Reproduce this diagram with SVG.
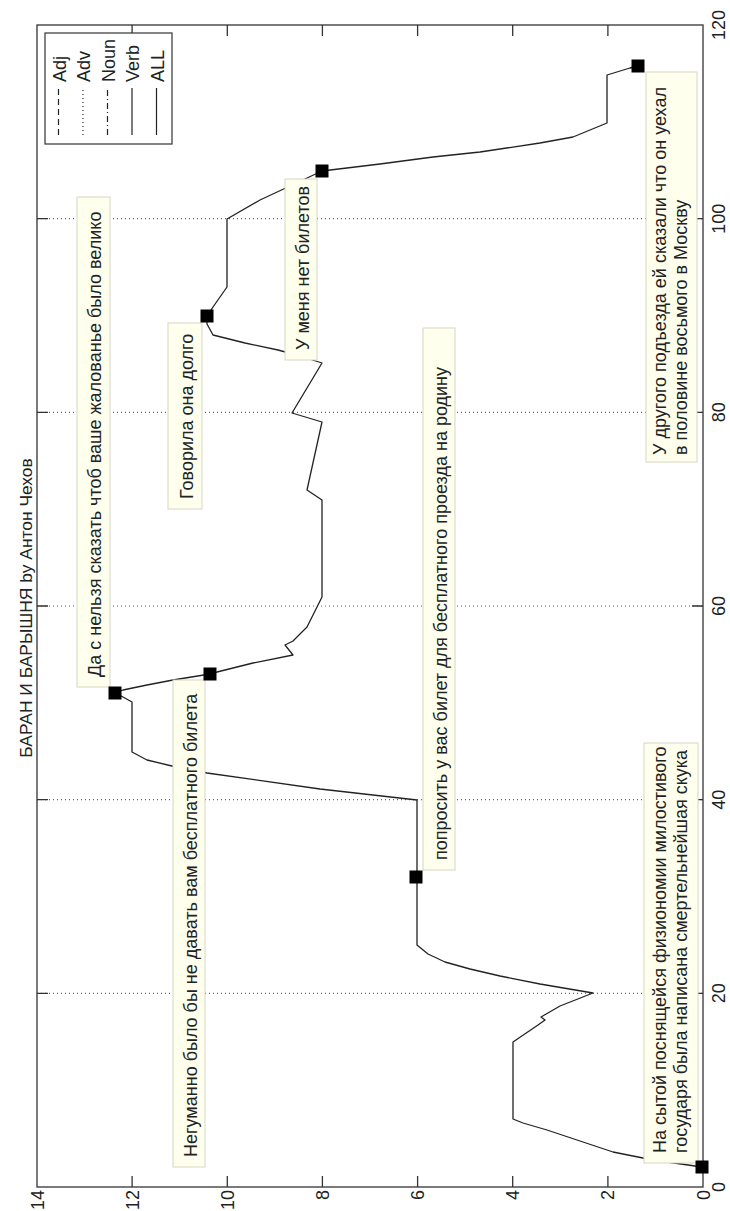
<svg xmlns="http://www.w3.org/2000/svg" width="730" height="1211" viewBox="0 0 730 1211">
<style>
text{font-family:"Liberation Sans",Arial,sans-serif;font-size:18px;fill:#222}
.grid{stroke:#666;stroke-width:1.2;stroke-dasharray:1 3;fill:none}
.tick{stroke:#333;stroke-width:1.3}
.tip{fill:#ffffee;stroke:#d6d6c4;stroke-width:1}
.mk{fill:#000}
.curve{fill:none;stroke:#222;stroke-width:1.3;stroke-linejoin:round}
.leg{stroke:#222;stroke-width:1.2;fill:none}
</style>
<rect width="730" height="1211" fill="#fff"/>
<g id="grid">
<line class="grid" x1="37" y1="993.3" x2="703" y2="993.3"/>
<line class="grid" x1="37" y1="799.7" x2="703" y2="799.7"/>
<line class="grid" x1="37" y1="606" x2="703" y2="606"/>
<line class="grid" x1="37" y1="412.3" x2="703" y2="412.3"/>
<line class="grid" x1="37" y1="218.7" x2="703" y2="218.7"/>
</g>
<g id="axes">
<rect x="37" y="25" width="666" height="1162" fill="none" stroke="#333" stroke-width="1.3"/>
<path class="tick" d="M37 993.3h11M37 799.7h11M37 606h11M37 412.3h11M37 218.7h11M703 993.3h-11M703 799.7h-11M703 606h-11M703 412.3h-11M703 218.7h-11M132.1 1187v-11M227.3 1187v-11M322.4 1187v-11M417.6 1187v-11M512.7 1187v-11M607.9 1187v-11M132.1 25v11M227.3 25v11M322.4 25v11M417.6 25v11M512.7 25v11M607.9 25v11"/>
<g text-anchor="middle">
<text transform="translate(725,1187) rotate(-90)">0</text>
<text transform="translate(725,993.3) rotate(-90)">20</text>
<text transform="translate(725,799.7) rotate(-90)">40</text>
<text transform="translate(725,606) rotate(-90)">60</text>
<text transform="translate(725,412.3) rotate(-90)">80</text>
<text transform="translate(725,218.7) rotate(-90)">100</text>
<text transform="translate(725,25) rotate(-90)">120</text>
</g>
<g text-anchor="end">
<text transform="translate(43.5,1190) rotate(-90)">14</text>
<text transform="translate(138.6,1190) rotate(-90)">12</text>
<text transform="translate(233.8,1190) rotate(-90)">10</text>
<text transform="translate(328.9,1190) rotate(-90)">8</text>
<text transform="translate(424.1,1190) rotate(-90)">6</text>
<text transform="translate(519.2,1190) rotate(-90)">4</text>
<text transform="translate(614.4,1190) rotate(-90)">2</text>
<text transform="translate(709.5,1190) rotate(-90)">0</text>
</g>
<text id="title" text-anchor="middle" style="font-size:17.4px" transform="translate(32,608) rotate(-90)">БАРАН И БАРЫШНЯ by Антон Чехов</text>
</g>
<g id="connectors">
<path class="curve" d="M702 1167 L667 1162 L643 1158 L613 1152 L580 1141 L547 1130 L523 1123 L513 1119 L513 1042 L538 1025 L545 1020 L541 1017 L560 1006 L593 993 L540 984 L500 976 L470 969 L445 962 L428 954 L417 945 L417 800 L320 789 L207 773 L172 766 L147 760 L132 752 L132 702 L123 697 L115 693 L123 690 L147 685 L173 680 L210 674 L217 672 L253 663 L293 655 L285 645 L293 641 L307 627 L322 597 L322 500 L307 490 L322 422 L292 413 L322 363 L300 356 L278 350 L245 343 L213 335 L207 324 L207 316 L213 307 L227 287 L227 219 L260 200 L290 186 L322 171 L380 164 L433 157 L480 152 L540 143 L573 137 L607 123 L607 75 L630 68 L638 66"/>
</g>
<g id="tipA"><rect class="tip" x="644" y="743" width="54" height="420"/>
<text transform="translate(666,1153) rotate(-90)">На сытой поснящейся физиономии милостивого</text>
<text transform="translate(687,1153) rotate(-90)">государя была написана смертельнейшая скука</text></g>
<g id="tipB"><rect class="tip" x="173" y="680" width="32" height="487"/>
<text transform="translate(197,1157) rotate(-90)">Негуманно было бы не давать вам бесплатного билета</text></g>
<g id="tipC"><rect class="tip" x="77" y="197" width="33" height="490"/>
<text transform="translate(101,677) rotate(-90)">Да с нельзя сказать чтоб ваше жалованье было велико</text></g>
<g id="tipD"><rect class="tip" x="423" y="328" width="32" height="542"/>
<text transform="translate(447,860) rotate(-90)">попросить у вас билет для бесплатного проезда на родину</text></g>
<g id="tipE"><rect class="tip" x="168" y="323" width="34" height="186"/>
<text transform="translate(193,499) rotate(-90)">Говорила она долго</text></g>
<g id="tipF"><rect class="tip" x="285" y="179" width="32" height="181"/>
<text transform="translate(309,350) rotate(-90)">У меня нет билетов</text></g>
<g id="tipG"><rect class="tip" x="646" y="72" width="51" height="390"/>
<text transform="translate(666,455) rotate(-90)">У другого подъезда ей сказали что он уехал</text>
<text transform="translate(687,455) rotate(-90)">в половине восьмого в Москву</text></g>
<g id="markers">
<rect class="mk" x="695.5" y="1160.5" width="13" height="13"/>
<rect class="mk" x="409.5" y="870.5" width="13" height="13"/>
<rect class="mk" x="108.5" y="686.5" width="13" height="13"/>
<rect class="mk" x="203.5" y="667.5" width="13" height="13"/>
<rect class="mk" x="200.5" y="309.5" width="13" height="13"/>
<rect class="mk" x="315.5" y="164.5" width="13" height="13"/>
<rect class="mk" x="631.5" y="59.5" width="13" height="13"/>
</g>
<g id="legend">
<rect x="45" y="33" width="127" height="111" fill="#fff" stroke="#333" stroke-width="1.2"/>
<line class="leg" x1="58.5" y1="135" x2="58.5" y2="88" stroke-dasharray="6 4"/>
<line class="leg" x1="83" y1="135" x2="83" y2="88" stroke-dasharray="1 3"/>
<line class="leg" x1="107.5" y1="135" x2="107.5" y2="88" stroke-dasharray="6 3 1 3"/>
<line class="leg" x1="132" y1="135" x2="132" y2="88"/>
<line class="leg" x1="156.5" y1="135" x2="156.5" y2="88"/>
<text transform="translate(65.5,82) rotate(-90)">Adj</text>
<text transform="translate(90,82) rotate(-90)">Adv</text>
<text transform="translate(114.5,82) rotate(-90)">Noun</text>
<text transform="translate(139,82) rotate(-90)">Verb</text>
<text transform="translate(163.5,82) rotate(-90)">ALL</text>
</g>
</svg>
